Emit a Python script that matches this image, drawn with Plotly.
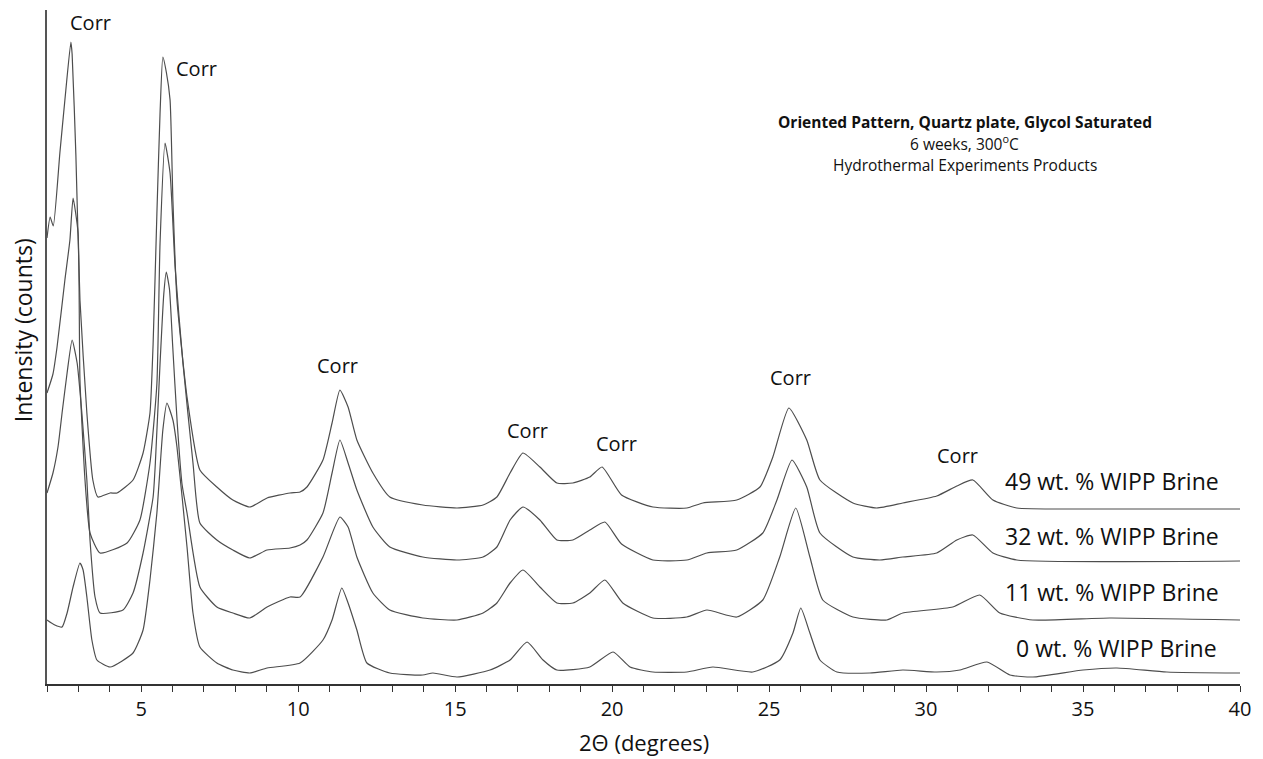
import plotly.graph_objects as go

# ---- data (2-theta in degrees, intensity in arbitrary counts, offset-stacked) ----
x_49 = [2.00, 2.10, 2.20, 2.41, 2.57, 2.76, 2.80, 2.92, 3.05, 3.27, 3.46, 3.62, 4.01, 4.23, 4.74, 5.06, 5.28,
        5.38, 5.50, 5.60, 5.69, 5.80, 5.92, 6.01, 6.14, 6.46, 6.87, 7.41, 7.92, 8.46, 9.01, 9.74, 10.06, 10.28,
        10.79, 11.08, 11.33, 11.59, 11.87, 12.38, 12.92, 13.97, 15.06, 15.89, 16.33, 16.75, 17.16, 17.70, 18.24,
        18.75, 19.29, 19.68, 20.30, 21.30, 22.38, 22.89, 23.97, 24.71, 25.12, 25.63, 26.20, 26.62, 27.67, 28.43,
        29.26, 30.34, 30.98, 31.49, 32.13, 32.89, 35.00, 40.00]
y_49 = [446, 467, 458, 531, 584, 642, 630, 529, 384, 271, 204, 187, 191, 191, 204, 231, 271,
        340, 470, 570, 627, 612, 584, 484, 384, 287, 214, 197, 184, 177, 186, 191, 192, 197,
        224, 261, 294, 277, 244, 211, 187, 179, 176, 179, 187, 211, 231, 217, 201,
        201, 207, 217, 189, 177, 176, 181, 184, 197, 227, 276, 244, 204, 181, 176,
        181, 188, 198, 204, 184, 176, 175, 175]

x_32 = [2.00, 2.19, 2.32, 2.57, 2.73, 2.83, 2.99, 3.05, 3.21, 3.37, 3.69, 4.55, 4.96, 5.28, 5.50, 5.60, 5.76,
        5.92, 6.08, 6.33, 6.65, 6.87, 7.41, 7.92, 8.46, 9.01, 9.74, 10.06, 10.28, 10.79, 11.08, 11.33, 11.59,
        11.87, 12.38, 12.92, 13.97, 15.06, 15.89, 16.33, 16.75, 17.16, 17.70, 18.24, 18.75, 19.29, 19.77, 20.30,
        21.30, 22.38, 23.02, 23.97, 24.80, 25.25, 25.73, 26.20, 26.62, 27.67, 28.53, 29.26, 30.34, 30.98, 31.49,
        32.13, 32.89, 40.00]
y_32 = [291, 310, 337, 404, 444, 486, 451, 304, 204, 151, 131, 141, 164, 221, 300, 440, 541,
        511, 417, 321, 221, 161, 144, 134, 126, 134, 136, 139, 144, 171, 211, 244, 221,
        194, 157, 137, 127, 124, 127, 137, 164, 177, 164, 144, 144, 154, 162, 140,
        124, 124, 131, 134, 151, 184, 224, 197, 151, 127, 124, 127, 131, 144, 149,
        131, 124, 123]

x_11 = [2.00, 2.19, 2.35, 2.48, 2.64, 2.80, 2.96, 3.11, 3.27, 3.37, 3.53, 3.69, 4.42, 4.74, 5.06, 5.38, 5.45,
        5.60, 5.72, 5.80, 5.90, 6.00, 6.15, 6.30, 6.46, 6.87, 7.41, 7.92, 8.46, 9.01, 9.74, 10.06, 10.79, 11.33,
        11.59, 11.87, 12.38, 12.92, 13.97, 15.06, 15.89, 16.33, 16.75, 17.16, 17.70, 18.24, 18.75, 19.29, 19.77,
        20.34, 21.30, 22.38, 23.02, 23.97, 24.80, 25.34, 25.85, 26.30, 26.71, 27.67, 28.75, 29.26, 30.85, 31.71,
        32.35, 33.40, 35.85, 40.00]
y_11 = [191, 211, 237, 271, 311, 344, 321, 271, 204, 144, 87, 71, 74, 91, 131, 187, 220,
        320, 390, 412, 395, 340, 260, 200, 171, 97, 77, 71, 66, 77, 87, 87, 127, 167,
        157, 127, 91, 74, 66, 64, 71, 81, 101, 114, 97, 81, 81, 91, 104,
        81, 66, 67, 74, 67, 84, 127, 176, 127, 84, 67, 64, 71, 77, 89,
        71, 64, 66, 64]

x_0 = [2.00, 2.25, 2.48, 2.64, 2.83, 3.05, 3.15, 3.27, 3.43, 3.59, 4.01, 4.74, 5.06, 5.28, 5.50, 5.69, 5.82,
       6.01, 6.14, 6.46, 6.65, 6.87, 7.41, 7.92, 8.46, 9.01, 10.06, 10.79, 11.08, 11.39, 11.59, 11.87, 12.19,
       12.92, 13.97, 14.29, 15.06, 16.11, 16.75, 17.29, 17.80, 18.24, 19.29, 20.03, 20.57, 21.30, 22.38, 23.21,
       24.48, 25.34, 25.76, 26.01, 26.30, 26.62, 27.16, 28.21, 29.26, 30.34, 31.08, 31.94, 32.67, 33.40, 35.00,
       36.08, 37.67, 40.00]
y_0 = [64, 59, 57, 71, 97, 121, 114, 87, 44, 24, 17, 31, 54, 104, 171, 254, 281,
       264, 237, 137, 71, 37, 21, 14, 11, 16, 21, 44, 64, 96, 81, 54, 21,
       11, 9, 11, 7, 14, 24, 42, 24, 14, 17, 32, 17, 12, 12, 17,
       12, 24, 51, 76, 51, 24, 12, 11, 14, 12, 14, 22, 9, 7, 14,
       16, 12, 11]

series = [(x_49, y_49), (x_32, y_32), (x_11, y_11), (x_0, y_0)]
series_labels = ["49 wt. % WIPP Brine", "32 wt. % WIPP Brine", "11 wt. % WIPP Brine", "0 wt. % WIPP Brine"]
label_pos = [(35.92, 203), (35.92, 148), (35.92, 92), (36.08, 36)]

corr_pos = [(3.40, 662), (6.75, 616), (11.24, 319), (17.29, 254), (20.15, 241), (25.69, 307), (31.01, 229)]

x_ticks = [5, 10, 15, 20, 25, 30, 35, 40]

FONT = "Open Sans"
LINE = "#4d4d4d"
TXT = "#111"

fig = go.Figure()
for (xs, ys), name in zip(series, series_labels):
    fig.add_trace(go.Scatter(x=xs, y=ys, mode="lines", name=name,
                             line=dict(color=LINE, width=1.2, shape="spline", smoothing=0.5),
                             showlegend=False))

ann = []
for (cx, cy) in corr_pos:
    ann.append(dict(x=cx, y=cy, xref="x", yref="y", text="Corr", showarrow=False,
                    font=dict(family=FONT, size=20, color=TXT)))
for (lx, ly), t in zip(label_pos, series_labels):
    ann.append(dict(x=lx, y=ly, xref="x", yref="y", text=t, showarrow=False,
                    font=dict(family=FONT, size=23, color=TXT)))
ann.append(dict(x=31.24, y=562, xref="x", yref="y", showarrow=False,
                text="<b>Oriented Pattern, Quartz plate, Glycol Saturated</b>",
                font=dict(family=FONT, size=15.5, color=TXT)))
ann.append(dict(x=31.24, y=541, xref="x", yref="y", showarrow=False,
                text="6 weeks, 300<sup>o</sup>C",
                font=dict(family=FONT, size=15.5, color=TXT)))
ann.append(dict(x=31.24, y=519, xref="x", yref="y", showarrow=False,
                text="Hydrothermal Experiments Products",
                font=dict(family=FONT, size=15.5, color=TXT)))
ann.append(dict(x=21.0, y=-0.086, xref="x", yref="paper", xanchor="center", yanchor="middle",
                showarrow=False, text="2\u0398 (degrees)", font=dict(family=FONT, size=22, color=TXT)))
ann.append(dict(x=-0.020, y=0.525, xref="paper", yref="paper", xanchor="center", yanchor="middle",
                showarrow=False, textangle=-90,
                text="Intensity (counts)", font=dict(family=FONT, size=23, color=TXT)))

fig.update_layout(
    width=1263, height=759,
    margin=dict(l=47, r=23, t=10, b=75),
    paper_bgcolor="white", plot_bgcolor="white",
    annotations=ann,
    xaxis=dict(range=[2, 40], showgrid=False, zeroline=False, showline=True, linecolor="#333", linewidth=1.5,
               tickmode="array", tickvals=x_ticks, ticks="outside", ticklen=6, tickcolor="#333",
               tickfont=dict(family=FONT, size=20, color=TXT),
               minor=dict(dtick=1, tick0=0, ticks="outside", ticklen=6, tickcolor="#333", showgrid=False)),
    yaxis=dict(range=[0, 674], showgrid=False, zeroline=False, showline=True, linecolor="#555", linewidth=1.5,
               showticklabels=False, ticks=""),
)

fig.write_html("out.html")
